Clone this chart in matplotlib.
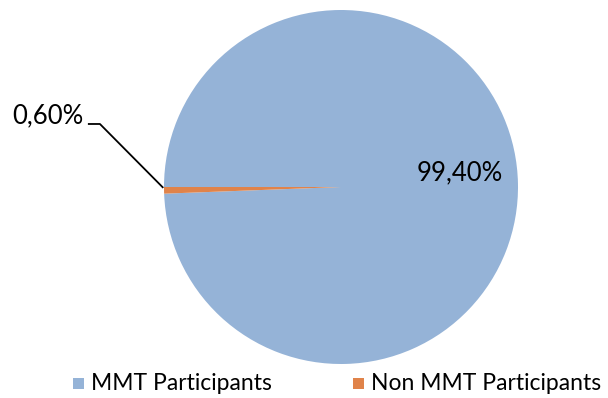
import matplotlib
matplotlib.use("Agg")
import matplotlib.pyplot as plt
from matplotlib.patches import Rectangle

categories = ["MMT Participants", "Non MMT Participants"]
values = [99.4, 0.6]
labels = ["99,40%", "0,60%"]
colors = ["#95B3D7", "#E0834A"]

plt.rcParams['font.family'] = ['Lato', 'DejaVu Sans']

W, H = 608, 398
fig = plt.figure(figsize=(W/100, H/100), dpi=100)
cx, cy, r = 341, 187, 177
ax = fig.add_axes([(cx-r)/W, (H-cy-r)/H, 2*r/W, 2*r/H])
wedges, _ = ax.pie(values, colors=colors, startangle=180, counterclock=False,
                   radius=1, wedgeprops=dict(linewidth=0))
ax.set_xlim(-1, 1)
ax.set_ylim(-1, 1)
ax.set_aspect('equal')
ax.axis('off')

# 99,40% label inside
ax.text(0.67, 0.08, labels[0], ha='center', va='center', fontsize=18.5, color='black')

# 0,60% label with leader line
ax.text(-1.455, 0.40, labels[1], ha='right', va='center', fontsize=18.5, color='black')
ax.plot([-1.43, -1.362, -1.004], [0.356, 0.356, -0.005], color='black', lw=1.3,
        clip_on=False, solid_capstyle='butt')

# legend drawn manually (Excel-like layout)
legend_x = [73, 353]
sq = 11
ly = 383
for xpx, c, name in zip(legend_x, colors, categories):
    fig.patches.append(Rectangle((xpx/W, (H-ly-sq/2)/H), sq/W, sq/H,
                                 transform=fig.transFigure, facecolor=c,
                                 edgecolor='none'))
    fig.text((xpx+sq+7)/W, (H-ly)/H, name, ha='left', va='center',
             fontsize=16.5, color='black')

fig.savefig("out.png", dpi=100)
